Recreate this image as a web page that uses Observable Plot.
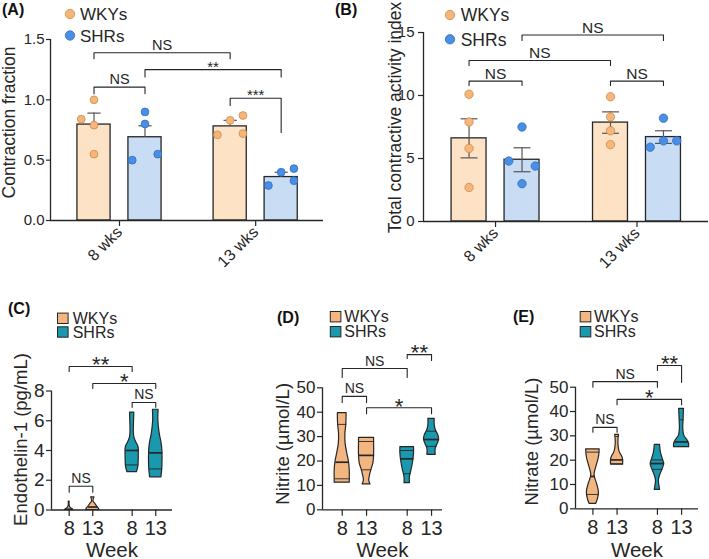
<!DOCTYPE html>
<html><head><meta charset="utf-8">
<script src="https://cdn.jsdelivr.net/npm/d3@7"></script>
<script src="https://cdn.jsdelivr.net/npm/@observablehq/plot@0.6"></script>
<style>
body{margin:0;background:#fff;}
#root{position:relative;width:709px;height:559px;overflow:hidden;background:#fff;font-family:"Liberation Sans",Arial,Helvetica,sans-serif;}
#root svg{position:absolute;}
</style></head><body><div id="root"></div>
<script>
// ---------------- data ----------------
const groupNames = ["WKYs", "SHRs"];
const ageLabels = ["8 wks", "13 wks"];
const weekTicks = ["8", "13", "8", "13"];
// bar panels order: WKYs 8 wks, SHRs 8 wks, WKYs 13 wks, SHRs 13 wks
const barGroup = ["WKYs", "SHRs", "WKYs", "SHRs"];
// violin panels order: WKYs 8, WKYs 13, SHRs 8, SHRs 13
const violinGroup = ["WKYs", "WKYs", "SHRs", "SHRs"];

// (A) contraction fraction
const contractionMean = [0.795, 0.69, 0.78, 0.36];
const contractionSEM = [0.095, 0.095, 0.05, 0.04];
const contractionPoints = [[1.00, 0.84, 0.79, 0.55], [0.90, 0.80, 0.50, 0.55], [0.83, 0.87, 0.71, 0.72], [0.29, 0.40, 0.43, 0.33]];
const contractionSpread = [[0, -1, 0, 0], [0, 0, -1, 1], [0, 1, -1, 1], [-1, 0, 1, 1]];
const contractionTests = [
  {from: 0, to: 2, level: 1.39, endFrom: 1.34, endTo: 1.34, label: "NS"},
  {from: 1, to: 3, level: 1.25, endFrom: 1.19, endTo: 1.19, label: "**"},
  {from: 0, to: 1, level: 1.105, endFrom: 1.05, endTo: 1.05, label: "NS"},
  {from: 2, to: 3, level: 1.013, endFrom: 0.953, endTo: 0.73, label: "***"}
];

// (B) total contractive activity index
const activityMean = [6.6, 4.9, 7.85, 6.7];
const activitySEM = [1.55, 0.95, 0.85, 0.5];
const activityPoints = [[10.1, 7.9, 5.8, 2.7], [7.5, 4.8, 4.4, 3.0], [9.9, 8.3, 7.2, 6.1], [8.2, 5.9, 6.4, 6.4]];
const activitySpread = [[0, 0, 0, 0], [0, -1, 1, 0], [0, 0, 0, 0], [0, -1, 0, 1]];
const activityTests = [
  {from: 1, to: 3, level: 14.8, endFrom: 14.36, endTo: 14.36, label: "NS"},
  {from: 0, to: 2, level: 12.78, endFrom: 12.38, endTo: 12.38, label: "NS"},
  {from: 0, to: 1, level: 11.14, endFrom: 10.8, endTo: 10.8, label: "NS"},
  {from: 2, to: 3, level: 11.14, endFrom: 10.8, endTo: 10.8, label: "NS"}
];

// violin profiles: [value, half width of density]
// (C) endothelin-1
const et1Profiles = [
  [[0.56, 0.02], [0.3, 0.02], [0.15, 0.06], [0.05, 0.15], [0, 0.17]],
  [[0.85, 0.07], [0.58, 0.03], [0.4, 0.11], [0.22, 0.19], [0.05, 0.27], [0, 0.28]],
  [[6.54, 0.09], [6.0, 0.08], [5.3, 0.07], [4.9, 0.09], [4.56, 0.17], [4.22, 0.27], [3.6, 0.28], [2.9, 0.26], [2.54, 0.2]],
  [[6.74, 0.12], [6.0, 0.11], [5.1, 0.17], [4.56, 0.24], [4.0, 0.28], [2.88, 0.28], [2.2, 0.24]]
];
const et1Median = [0.05, 0.2, 4.0, 3.84];
const et1Quartiles = [[], [], [3.03], [2.76]];
const et1Tests = [
  {from: 0, to: 2, level: 9.65, endFrom: 9.31, endTo: 9.31, label: "**"},
  {from: 1, to: 3, level: 8.5, endFrom: 8.17, endTo: 8.17, label: "*"},
  {from: 2, to: 3, level: 7.23, endFrom: 6.9, endTo: 6.9, label: "NS"},
  {from: 0, to: 1, level: 1.6, endFrom: 1.2, endTo: 1.2, label: "NS"}
];

// (D) nitrite
const nitriteProfiles = [
  [[39.6, 0.18], [35.2, 0.17], [31, 0.13], [27, 0.14], [23, 0.21], [19.5, 0.28], [16, 0.31], [13.4, 0.31], [11.1, 0.31]],
  [[29.5, 0.31], [27.7, 0.31], [22.3, 0.31], [18.9, 0.28], [16.8, 0.21], [14, 0.14], [12, 0.11], [10.4, 0.16]],
  [[25.7, 0.28], [23, 0.28], [19.5, 0.24], [16, 0.17], [13.4, 0.11], [10.9, 0.11]],
  [[37.3, 0.13], [34.6, 0.13], [32.5, 0.18], [30.5, 0.28], [28.8, 0.31], [27, 0.25], [25, 0.17], [22.5, 0.17]]
];
const nitriteMedian = [19.5, 22.3, 20.9, 28.8];
const nitriteQuartiles = [[35.0, 12.7], [28, 16.4], [24.3, 14.8], [32.2, 26]];
const nitriteTests = [
  {from: 0, to: 2, level: 57.9, endFrom: 54.2, endTo: 54.2, label: "NS"},
  {from: 2, to: 3, level: 63.6, endFrom: 62.0, endTo: 61.2, label: "**"},
  {from: 0, to: 1, level: 46.5, endFrom: 44.0, endTo: 44.0, label: "NS"},
  {from: 1, to: 3, level: 41.8, endFrom: 39.4, endTo: 39.4, label: "*"}
];

// (E) nitrate
const nitrateProfiles = [
  [[24.4, 0.28], [21.2, 0.25], [17.1, 0.14], [14.4, 0.07], [13, 0.08], [10.3, 0.17], [6.8, 0.25], [4.1, 0.21], [2.05, 0.14]],
  [[30.4, 0.08], [28.8, 0.06], [26, 0.06], [23.3, 0.11], [21.5, 0.21], [20.1, 0.25], [18.2, 0.25]],
  [[26.3, 0.11], [23.3, 0.14], [20.5, 0.22], [18.5, 0.28], [16.4, 0.22], [13.7, 0.11], [11.6, 0.06], [9.6, 0.08], [7.8, 0.11]],
  [[41.1, 0.1], [36.3, 0.08], [33, 0.07], [30.1, 0.11], [28.1, 0.25], [26.7, 0.31], [25.3, 0.31]]
];
const nitrateMedian = [13.3, 20.1, 18.6, 27.5];
const nitrateQuartiles = [[23.3, 5.9], [29.7, 18.5], [20.1, 16.2], [36.6, 25.6]];
const nitrateTests = [
  {from: 0, to: 2, level: 52.3, endFrom: 50, endTo: 50, label: "NS"},
  {from: 2, to: 3, level: 58.9, endFrom: 56.9, endTo: 52, label: "**"},
  {from: 1, to: 3, level: 45.0, endFrom: 42.8, endTo: 42.8, label: "*"},
  {from: 0, to: 1, level: 33.5, endFrom: 31.5, endTo: 31.5, label: "NS"}
];

// ---------------- styling / layout ----------------
const FONT = '"Liberation Sans", Arial, Helvetica, sans-serif';
const INK = "#262626";
const barFill = {WKYs: "#fde2c6", SHRs: "#c8dcf4"};
const dotFill = {WKYs: "#f6b67a", SHRs: "#4a8fe4"};
const dotStroke = {WKYs: "#c98b4e", SHRs: "#2f6fc2"};
const violinFill = {WKYs: "#f4b680", SHRs: "#1998ae"};
const xPos = [1, 2, 3.67, 4.67];
const groupCenters = [(xPos[0] + xPos[1]) / 2, (xPos[2] + xPos[3]) / 2];
const root = document.getElementById("root");

function put(svg, left, top) {
  svg.style.left = left + "px";
  svg.style.top = top + "px";
  root.appendChild(svg);
}

function bracketMarks(tests, nsSize, starSize) {
  const pts = tests.flatMap((t, k) => [
    {k, x: xPos[t.from], y: t.endFrom},
    {k, x: xPos[t.from], y: t.level},
    {k, x: xPos[t.to], y: t.level},
    {k, x: xPos[t.to], y: t.endTo}
  ]);
  const star = (t) => t.label.includes("*");
  const mid = (t) => (xPos[t.from] + xPos[t.to]) / 2;
  return [
    Plot.line(pts, {x: "x", y: "y", z: "k", stroke: INK, strokeWidth: 1.1}),
    Plot.text(tests.filter((t) => !star(t)), {x: mid, y: "level", text: "label", textAnchor: "middle", lineAnchor: "bottom", dy: -8 + 0.36 * nsSize, fontSize: nsSize, fill: INK}),
    Plot.text(tests.filter(star), {x: mid, y: "level", text: "label", textAnchor: "middle", lineAnchor: "bottom", dy: -6.7 + 0.57 * starSize, fontSize: starSize, fill: INK})
  ];
}

function yTitle(label, dx, dy, size) {
  return Plot.text([label], {frameAnchor: "left", rotate: -90, dx, dy, textAnchor: "middle", lineAnchor: "top", fontSize: size, fill: INK});
}

function barPanel(o) {
  const idx = [0, 1, 2, 3];
  const dots = o.points.flatMap((arr, i) => arr.map((v, k) => ({i, v, s: o.spread[i][k]})));
  const caps = idx.flatMap((i) => (o.lowerErr ? [o.mean[i] + o.sem[i], o.mean[i] - o.sem[i]] : [o.mean[i] + o.sem[i]]).map((v) => ({i, v})));
  return Plot.plot({
    width: o.width, height: o.height,
    marginLeft: o.m[0], marginRight: o.m[1], marginTop: o.m[2], marginBottom: o.m[3],
    x: {domain: o.xDomain, axis: null},
    y: {domain: o.yDomain, axis: null},
    color: {type: "identity"},
    style: {fontFamily: FONT, background: "transparent", overflow: "visible", color: INK},
    marks: [
      Plot.rectY(idx, {x1: (i) => xPos[i] - o.barWidth / 2, x2: (i) => xPos[i] + o.barWidth / 2, y1: 0, y2: (i) => o.mean[i],
        fill: (i) => barFill[barGroup[i]], stroke: INK, strokeWidth: 1.3}),
      Plot.ruleX(idx, {x: (i) => xPos[i], y1: (i) => (o.lowerErr ? o.mean[i] - o.sem[i] : o.mean[i]), y2: (i) => o.mean[i] + o.sem[i], stroke: "#555", strokeWidth: 1.2}),
      Plot.link(caps, {x1: (d) => xPos[d.i] - o.capHalf, x2: (d) => xPos[d.i] + o.capHalf, y1: "v", y2: "v", stroke: "#555", strokeWidth: 1.2}),
      Plot.dot(dots, {x: (d) => xPos[d.i] + d.s * o.jitter, y: "v", r: o.dotR,
        fill: (d) => dotFill[barGroup[d.i]], stroke: (d) => dotStroke[barGroup[d.i]], strokeWidth: 0.8}),
      ...bracketMarks(o.tests, o.nsSize, o.starSize),
      Plot.ruleY([0], {stroke: INK, strokeWidth: 1.3}),
      Plot.ruleX([o.xDomain[0]], {y1: 0, y2: o.yDomain[1], stroke: INK, strokeWidth: 1.3}),
      Plot.axisY({ticks: o.yTicks, tickFormat: o.yFormat, tickSize: o.ytick[0], tickPadding: o.ytick[1], fontSize: 15, label: null, stroke: INK, strokeWidth: 1.2}),
      Plot.axisX({ticks: groupCenters, tickFormat: (d) => ageLabels[groupCenters.indexOf(d)], tickRotate: -45, tickSize: 6, tickPadding: 3, fontSize: 16, label: null, stroke: INK, strokeWidth: 1.2}),
      yTitle(o.yLabel, o.labelDx, o.labelDy, 17.5)
    ]
  });
}

function hwAt(profile, v) {
  for (let k = 0; k < profile.length - 1; k++) {
    const [v0, w0] = profile[k], [v1, w1] = profile[k + 1];
    if (v <= v0 && v >= v1) return v0 === v1 ? w0 : w0 + (w1 - w0) * (v0 - v) / (v0 - v1);
  }
  return profile[profile.length - 1][1];
}

function violinPanel(o) {
  const area = o.profiles.flatMap((prof, i) => prof.map(([v, w]) => ({i, v, w})));
  const lines = [
    ...o.median.map((v, i) => ({i, v, sw: 1.7})),
    ...o.quartiles.flatMap((qs, i) => qs.map((v) => ({i, v, sw: 0.9})))
  ];
  return Plot.plot({
    width: o.width, height: o.height,
    marginLeft: o.m[0], marginRight: o.m[1], marginTop: o.m[2], marginBottom: o.m[3],
    x: {domain: o.xDomain, axis: null},
    y: {domain: o.yDomain, axis: null},
    color: {type: "identity"},
    style: {fontFamily: FONT, background: "transparent", overflow: "visible", color: INK},
    marks: [
      Plot.areaX(area, {y: "v", x1: (d) => xPos[d.i] - d.w, x2: (d) => xPos[d.i] + d.w, z: "i",
        fill: (d) => violinFill[violinGroup[d.i]], stroke: INK, strokeWidth: 1.2, curve: "catmull-rom"}),
      Plot.link(lines, {x1: (d) => xPos[d.i] - hwAt(o.profiles[d.i], d.v), x2: (d) => xPos[d.i] + hwAt(o.profiles[d.i], d.v),
        y1: "v", y2: "v", stroke: INK, strokeWidth: "sw"}),
      ...bracketMarks(o.tests, 14, 22),
      Plot.ruleY([0], {stroke: INK, strokeWidth: 1.3}),
      Plot.ruleX([o.xDomain[0]], {y1: 0, y2: o.yDomain[1], stroke: INK, strokeWidth: 1.3}),
      Plot.axisY({ticks: o.yTicks, tickSize: 5, tickPadding: 2, fontSize: o.yTickSize, label: null, stroke: INK, strokeWidth: 1.2}),
      Plot.axisX({ticks: xPos, tickFormat: (d) => weekTicks[xPos.indexOf(d)], tickSize: 6.5, tickPadding: 4, fontSize: 20, label: null, stroke: INK, strokeWidth: 1.2}),
      Plot.text(["Week"], {frameAnchor: "bottom", dy: o.weekDy, textAnchor: "middle", lineAnchor: "bottom", fontSize: 20.5, fill: INK}),
      yTitle(o.yLabel, o.labelDx, o.labelDy, 18.5)
    ]
  });
}

// ---------------- panels ----------------
put(barPanel({
  width: 340, height: 290, m: [50, 17, 39, 70], xDomain: [0.147, 5.5], yDomain: [0, 1.5],
  yTicks: [0, 0.5, 1, 1.5], yFormat: d3.format(".1f"), ytick: [4, 2],
  mean: contractionMean, sem: contractionSEM, points: contractionPoints, spread: contractionSpread,
  tests: contractionTests, lowerErr: false, barWidth: 0.65, capHalf: 0.13, jitter: 0.25, dotR: 3.9,
  nsSize: 14.5, starSize: 15, yLabel: "Contraction fraction", labelDx: -47.5, labelDy: -7.5
}), 0, 0);

put(barPanel({
  width: 369, height: 290, m: [83, 1, 32, 69], xDomain: [0.14, 5.52], yDomain: [0, 15],
  yTicks: [0, 5, 10, 15], yFormat: d3.format("d"), ytick: [5, 4],
  mean: activityMean, sem: activitySEM, points: activityPoints, spread: activitySpread,
  tests: activityTests, lowerErr: true, barWidth: 0.66, capHalf: 0.16, jitter: 0.25, dotR: 4.2,
  nsSize: 15.5, starSize: 15, yLabel: "Total contractive activity index", labelDx: -35, labelDy: -9.5
}), 340, 0);

put(violinPanel({
  width: 235, height: 269, m: [51, 63, 100.5, 49.5], xDomain: [0.25, 5.38], yDomain: [0, 8], yTicks: [0, 2, 4, 6, 8], yTickSize: 19,
  profiles: et1Profiles, median: et1Median, quartiles: et1Quartiles, tests: et1Tests,
  yLabel: "Endothelin-1 (pg/mL)", labelDx: -38, labelDy: -11, weekDy: 46.5
}), 0, 290);

put(violinPanel({
  width: 235, height: 269, m: [87, 28, 97.3, 49.7], xDomain: [0.19, 5.12], yDomain: [0, 50], yTicks: [0, 10, 20, 30, 40, 50], yTickSize: 17,
  profiles: nitriteProfiles, median: nitriteMedian, quartiles: nitriteQuartiles, tests: nitriteTests,
  yLabel: "Nitrite (µmol/L)", labelDx: -47, labelDy: -5, weekDy: 46.7
}), 235, 290);

put(violinPanel({
  width: 239, height: 269, m: [105, 11, 96.7, 50.7], xDomain: [0.28, 5.37], yDomain: [0, 50], yTicks: [0, 10, 20, 30, 40, 50], yTickSize: 17,
  profiles: nitrateProfiles, median: nitrateMedian, quartiles: nitrateQuartiles, tests: nitrateTests,
  yLabel: "Nitrate (µmol/L)", labelDx: -51, labelDy: -6.5, weekDy: 47.7
}), 470, 290);

// ---------------- legends & panel letters ----------------
const overlay = d3.create("svg").attr("width", 709).attr("height", 559)
  .style("left", "0px").style("top", "0px").style("pointer-events", "none")
  .attr("font-family", FONT);

function circleLegend(cx, ys, tx, size) {
  groupNames.forEach((g, k) => {
    overlay.append("circle").attr("cx", cx).attr("cy", ys[k]).attr("r", 4.7)
      .attr("fill", dotFill[g]).attr("stroke", dotStroke[g]).attr("stroke-width", 0.8);
    overlay.append("text").attr("x", tx).attr("y", ys[k]).attr("dy", "0.36em")
      .attr("font-size", size).attr("fill", INK).text(g);
  });
}
function squareLegend(x, ys, tx, size) {
  groupNames.forEach((g, k) => {
    overlay.append("rect").attr("x", x).attr("y", ys[k] - 5.2).attr("width", 10.6).attr("height", 10.4)
      .attr("fill", violinFill[g]).attr("stroke", INK).attr("stroke-width", 1);
    overlay.append("text").attr("x", tx).attr("y", ys[k]).attr("dy", "0.36em")
      .attr("font-size", size).attr("fill", INK).text(g);
  });
}
circleLegend(70, [14, 35.5], 80, 17);
circleLegend(450, [15, 39.3], 460.7, 17.5);
squareLegend(57.5, [318.3, 332], 72.7, 16);
squareLegend(330.3, [316.7, 331.7], 344.3, 16);
squareLegend(580.2, [316.7, 331.7], 594, 16);

[["(A)", 2, 14.5], ["(B)", 335, 15], ["(C)", 8, 313.5], ["(D)", 277, 322.5], ["(E)", 513, 321.5]].forEach(([t, x, y]) => {
  overlay.append("text").attr("x", x).attr("y", y).attr("font-size", 16).attr("font-weight", "bold").attr("fill", "#111").text(t);
});
root.appendChild(overlay.node());
</script></body></html>
